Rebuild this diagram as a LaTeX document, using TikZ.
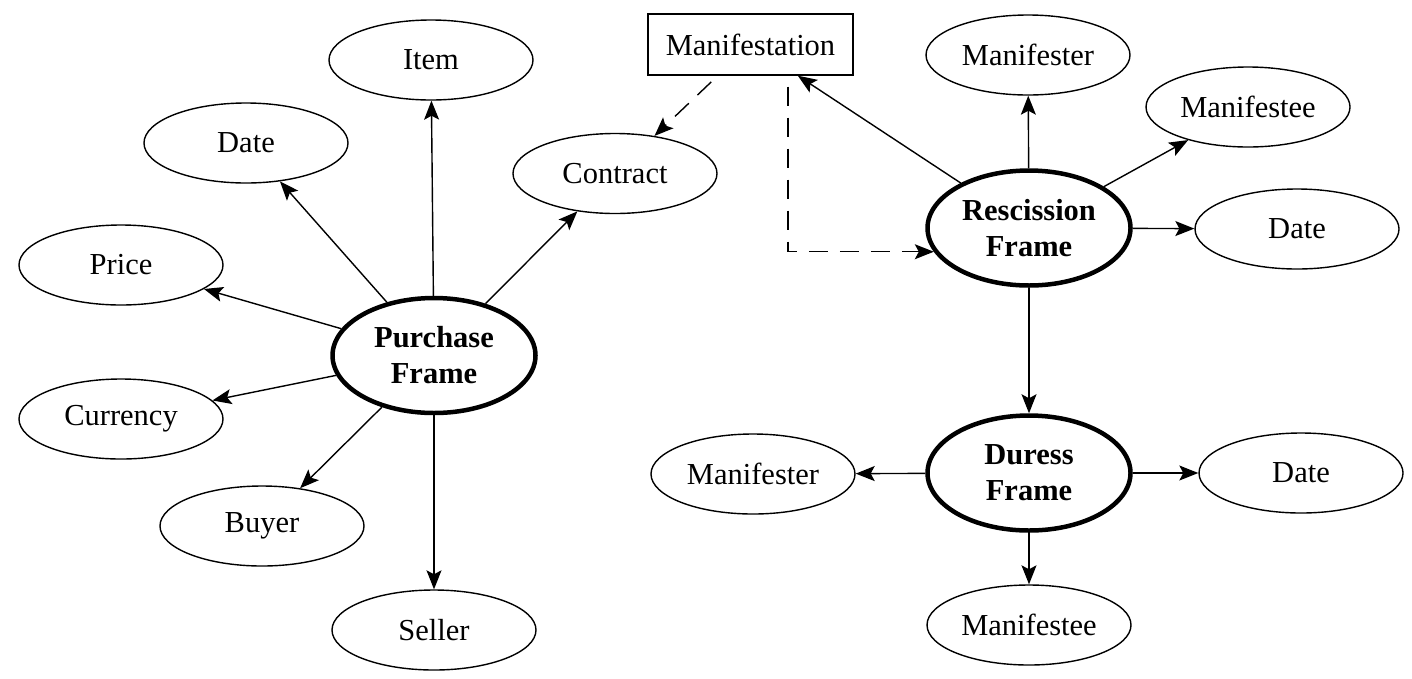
\documentclass[tikz,border=0pt]{standalone}
\usepackage{fontspec}
\setmainfont{Liberation Serif}
\usetikzlibrary{shapes.geometric,arrows.meta}
\begin{document}
\begin{tikzpicture}[x=1pt,y=-1pt,
  every node/.style={font=\fontsize{30.5}{36}\selectfont},
  leaf/.style={ellipse,draw,line width=1.4pt,minimum width=204pt,minimum height=80pt,inner sep=0pt},
  frame/.style={ellipse,draw,line width=4.5pt,minimum width=203pt,minimum height=115pt,inner sep=0pt,align=center,font=\fontsize{30.5}{36}\selectfont\bfseries},
  boxnode/.style={rectangle,draw,line width=1.4pt,minimum width=205pt,minimum height=61pt,inner sep=0pt},
  conn/.style={line width=1.4pt,-{Stealth[length=19pt,width=15pt,inset=4pt]}},
  dconn/.style={conn,dash pattern=on 19pt off 12pt}]
\useasboundingbox (0,0) rectangle (1412,678);
% left group
\node[frame] (purchase) at (434,355.5) {Purchase\\Frame};
\node[leaf] (item) at (431,60) {Item};
\node[leaf] (date1) at (246,143) {Date};
\node[leaf] (contract) at (615,173.5) {Contract};
\node[leaf] (price) at (121,265) {Price};
\node[leaf] (currency) at (121,419) {Currency};
\node[leaf] (buyer) at (262,526) {Buyer};
\node[leaf] (seller) at (434,630) {Seller};
% right group
\node[boxnode] (manif) at (750.5,44.5) {Manifestation};
\node[frame] (resc) at (1029,228) {Rescission\\Frame};
\node[leaf] (mter1) at (1028,55) {Manifester};
\node[leaf] (mtee1) at (1248,107) {Manifestee};
\node[leaf] (date2) at (1297,229) {Date};
\node[frame] (duress) at (1029,473) {Duress\\Frame};
\node[leaf] (mter2) at (753,474) {Manifester};
\node[leaf] (date3) at (1301,473) {Date};
\node[leaf] (mtee2) at (1029,625) {Manifestee};
% connectors
\draw[conn] (purchase) -- (item);
\draw[conn] (purchase) -- (date1);
\draw[conn] (purchase) -- (contract);
\draw[conn] (purchase) -- (price);
\draw[conn] (purchase) -- (currency);
\draw[conn] (purchase) -- (buyer);
\draw[conn] (purchase) -- (seller);
\draw[conn] (resc) -- (manif);
\draw[conn] (resc) -- (mter1);
\draw[conn] (resc) -- (mtee1);
\draw[conn] (resc) -- (date2);
\draw[conn] (resc) -- (duress);
\draw[conn] (duress) -- (mter2);
\draw[conn] (duress) -- (date3);
\draw[conn] (duress) -- (mtee2);
\draw[dconn,shorten <=9pt] (manif) -- (contract);
\draw[dconn,shorten <=11pt] ([xshift=37.5pt]manif.south) |- (resc.194.8);
\end{tikzpicture}
\end{document}
